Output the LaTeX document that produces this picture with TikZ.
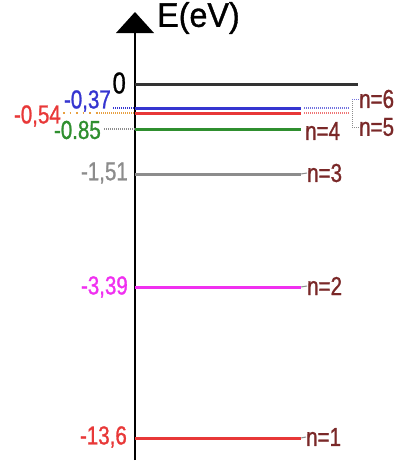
\documentclass[tikz,border=0pt]{standalone}
\usepackage{fontspec}
\setmainfont{Liberation Sans}
\newfontfamily\lab[FakeStretch=0.79,FakeBold=1]{Liberation Sans}
\newfontfamily\titlefont[FakeStretch=0.95,FakeBold=1]{Liberation Sans}
\definecolor{cblk}{HTML}{333333}
\definecolor{cblue}{HTML}{3535D0}
\definecolor{cred}{HTML}{E83838}
\definecolor{cgreen}{HTML}{2F8F2F}
\definecolor{cgray}{HTML}{8C8C8C}
\definecolor{cmag}{HTML}{F030F0}
\definecolor{cn}{HTML}{7A2828}
\definecolor{corange}{HTML}{E8A040}
\begin{document}
\begin{tikzpicture}[x=1pt,y=-1pt,
  val/.style={anchor=east,inner sep=0pt,font=\lab\fontsize{26}{26}\selectfont},
  nlab/.style={anchor=west,inner sep=0pt,text=cn,font=\lab\fontsize{26}{26}\selectfont},
  lvl/.style={line width=3pt},
  dots/.style={line width=2pt,dash pattern=on 1pt off 1pt}]
\useasboundingbox (0,0) rectangle (397,464);
% axis
\coordinate (ab) at (135,460);
\coordinate (at) at (135,30);
\draw[line width=1.8pt,black] (ab) -- (at);
\fill[black] (135,12) -- (154,33) -- (116,33) -- cycle;
\node[anchor=west,inner sep=0pt,font=\titlefont\fontsize{34}{34}\selectfont] (E) at (157,18) {E(eV)};
% level end points
\coordinate (l0a) at (135,84);  \coordinate (l0b) at (358,84);
\coordinate (l6a) at (135,108); \coordinate (l6b) at (301,108);
\coordinate (l5a) at (135,113); \coordinate (l5b) at (301,113);
\coordinate (l4a) at (135,129); \coordinate (l4b) at (301,129);
\coordinate (l3a) at (135,174); \coordinate (l3b) at (301,174);
\coordinate (l2a) at (135,287); \coordinate (l2b) at (301,287);
\coordinate (l1a) at (135,438); \coordinate (l1b) at (301,438);
\draw[lvl,cblk] (l0a) -- (l0b);
\draw[lvl,cblue] (l6a) -- (l6b);
\draw[lvl,cred] (l5a) -- (l5b);
\draw[lvl,cgreen] (l4a) -- (l4b);
\draw[lvl,cgray] (l3a) -- (l3b);
\draw[lvl,cmag] (l2a) -- (l2b);
\draw[lvl,cred] (l1a) -- (l1b);
% left values
\node[val,text=black,font=\lab\fontsize{30}{30}\selectfont] (v0) at (126,83) {0};
\node[val,text=cblue] (v6) at (111,101) {-0,37};
\node[val,text=cred] (v5) at (61,116) {-0,54};
\node[val,text=cgreen] (v4) at (101,130) {-0.85};
\node[val,text=cgray] (v3) at (128,173) {-1,51};
\node[val,text=cmag] (v2) at (128,287) {-3,39};
\node[val,text=cred] (v1) at (127,437) {-13,6};
% left dotted leaders
\draw[dots,cblue] (v6.east |- l6a) ++(2,0) -- (l6a);
\draw[dots,corange,line width=1.5pt,dash pattern=on 1.5pt off 5pt] (63,113) -- (97,113);
\draw[dots,corange] (97,113) -- (l5a);
\draw[dots,cgray] (104,129) -- (l4a);
% right labels
\node[nlab] (n4) at (305,131) {n=4};
\node[nlab] (n3) at (307,173) {n=3};
\node[nlab] (n2) at (307,286) {n=2};
\node[nlab] (n1) at (306,437) {n=1};
\node[nlab] (n6) at (359,99) {n=6};
\node[nlab] (n5) at (359,127) {n=5};
\draw[cgray,line width=1pt] (l3b) -- (n3.west);
\draw[cgray,line width=1pt] (l2b) -- (n2.west);
\draw[cgray,line width=1pt] (l1b) -- (n1.west);
% right dotted extensions
\coordinate (r6) at (350,108);
\coordinate (r5) at (350,113);
\draw[dots,cblue!70] (l6b) ++(3,0) -- (r6);
\draw[dots,cred!70] (l5b) ++(3,0) -- (r5);
\coordinate (k6) at (352,99);
\coordinate (k5) at (352,127);
\draw[cgray,line width=0.8pt,dash pattern=on 1pt off 1pt] (k6) -- (k5);
\draw[cblue!70,line width=1pt,dash pattern=on 1pt off 1pt] (k6) -- (n6.west);
\draw[cgray,line width=1pt,dash pattern=on 1pt off 1pt] (k5) -- (n5.west);
\end{tikzpicture}
\end{document}
